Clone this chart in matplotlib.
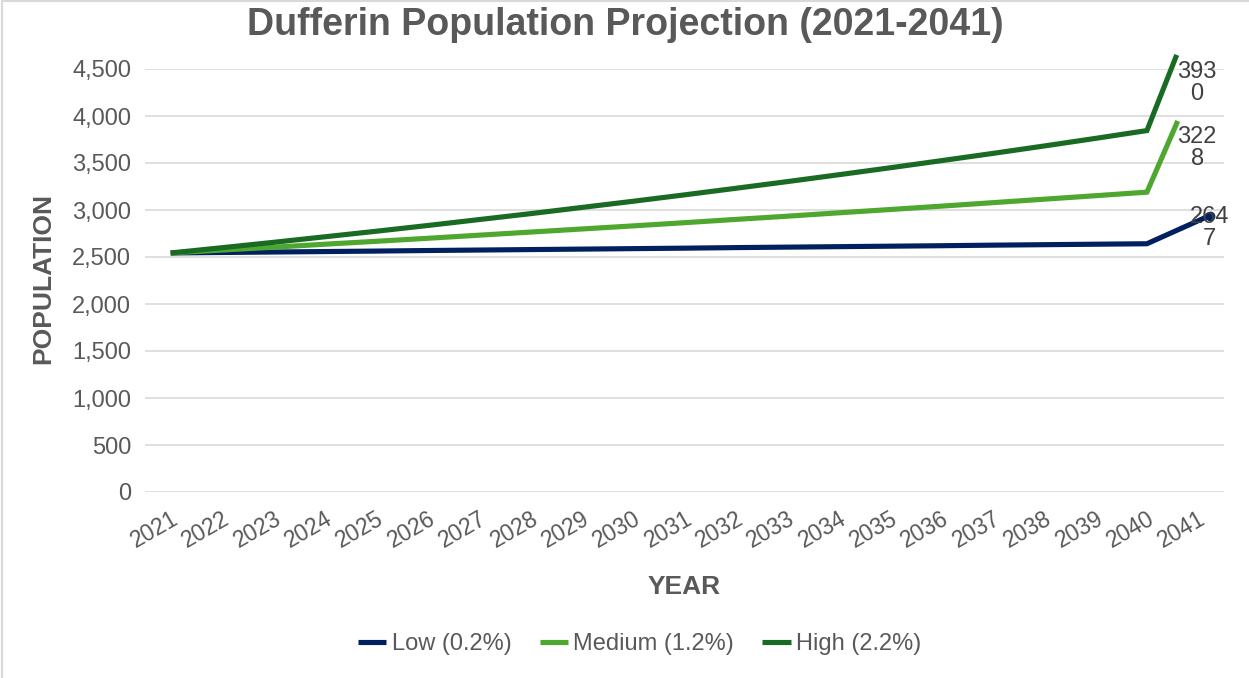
import matplotlib
matplotlib.use("Agg")
import matplotlib.pyplot as plt
from matplotlib.patches import Rectangle

plt.rcParams["font.family"] = ["Liberation Sans", "DejaVu Sans"]

# ---- data ----
years = [str(y) for y in range(2021, 2042)]

low = [2543, 2548, 2553, 2558, 2563, 2569, 2574, 2579, 2584, 2589,
       2594, 2600, 2605, 2610, 2615, 2620, 2626, 2631, 2636, 2641]
medium = [2543, 2574, 2604, 2636, 2667, 2699, 2732, 2765, 2798, 2831,
          2865, 2900, 2934, 2970, 3005, 3041, 3078, 3115, 3152, 3190]
high = [2543, 2599, 2656, 2715, 2774, 2835, 2898, 2961, 3027, 3093,
        3161, 3231, 3302, 3375, 3449, 3525, 3602, 3681, 3762, 3845]

# 2041 values as labelled, and where the final points sit in the picture
labels_2041 = ["264\n7", "322\n8", "393\n0"]
end_x = [20.22, 19.6, 19.58]       # category position of the drawn last point
end_y = [2940, 3947, 4650]

series_names = ["Low (0.2%)", "Medium (1.2%)", "High (2.2%)"]
colors = ["#002060", "#4EA72E", "#196B24"]
label_offsets = [(0, -8.6), (14, -19.4), (14.4, -20.2)]

yticks = [0, 500, 1000, 1500, 2000, 2500, 3000, 3500, 4000, 4500]

# ---- figure ----
W, H = 1249, 678
fig = plt.figure(figsize=(W / 100, H / 100), dpi=100)
ax = fig.add_axes([145 / W, 1 - 492 / H, 1079 / W, 423 / H])

for vals, ex, ey, name, c in zip([low, medium, high], end_x, end_y,
                                 series_names, colors):
    xs = list(range(len(vals))) + [ex]
    ys = vals + [ey]
    ax.plot(xs, ys, color=c, lw=3.7, label=name, clip_on=False,
            solid_capstyle="butt", solid_joinstyle="miter")

# marker on the last low point
ax.plot([end_x[0]], [end_y[0]], "o", color=colors[0], ms=6, clip_on=False)

for ex, ey, txt, off in zip(end_x, end_y, labels_2041, label_offsets):
    ax.annotate(txt, (ex, ey), xytext=off, textcoords="offset points",
                ha="center", va="center", multialignment="center",
                fontsize=17, color="#404040", linespacing=1.0,
                annotation_clip=False)

ax.set_xlim(-0.5, len(years) - 0.5)
ax.set_ylim(0, 4500)
ax.set_xticks(range(len(years)))
ax.set_xticklabels(years, rotation=30, ha="right", va="top",
                   rotation_mode="anchor")
ax.set_yticks(yticks)
ax.set_yticklabels([f"{v:,}" for v in yticks])
ax.tick_params(axis="both", length=0, colors="#595959")
ax.tick_params(axis="x", pad=11, labelsize=16.5)
ax.tick_params(axis="y", pad=10, labelsize=17)

ax.grid(axis="y", color="#D9D9D9", lw=1.2)
ax.set_axisbelow(True)
for s in ax.spines.values():
    s.set_visible(False)

fig.text(625 / W, 1 - 35 / H, "Dufferin Population Projection (2021-2041)",
         ha="center", va="baseline", fontsize=27, fontweight="bold",
         color="#595959")
fig.text(43 / W, 1 - 279 / H, "POPULATION", rotation=90, ha="center",
         va="center", fontsize=19, fontweight="bold", color="#595959")
fig.text(684.5 / W, 1 - 594 / H, "YEAR", ha="center", va="baseline",
         fontsize=19, fontweight="bold", color="#595959")

fig.legend(loc="center", bbox_to_anchor=(639.5 / W, 1 - 644 / H), ncol=3,
           frameon=False, fontsize=17, handlelength=1.2, handletextpad=0.22,
           columnspacing=1.2, labelcolor="#595959")

# light chart-area border (cropped on right and bottom)
fig.patches.append(Rectangle((1.5 / W, -0.1), 1.2, 1.1 - 1 / H,
                             transform=fig.transFigure, fill=False,
                             edgecolor="#D9D9D9", lw=1.5))

fig.savefig("out.png", dpi=100)
